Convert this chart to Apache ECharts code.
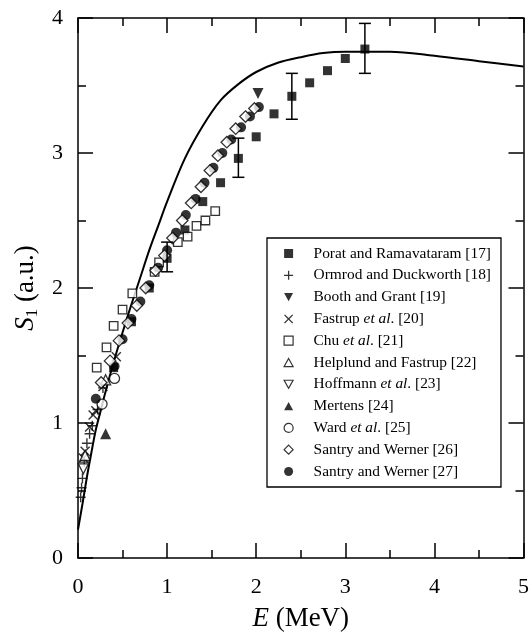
<!DOCTYPE html>
<html>
<head>
<meta charset="utf-8">
<script src="https://cdn.jsdelivr.net/npm/echarts@6/dist/echarts.min.js"></script>
<style>html,body{margin:0;padding:0;background:#fff}#c{width:532px;height:637px}</style>
</head>
<body>
<div id="c"></div>
<script>
// ---- data ----
var xTicks = [0, 1, 2, 3, 4, 5];
var yTicks = [0, 1, 2, 3, 4];

var curveE = [0, 0.05, 0.1, 0.15, 0.2, 0.25, 0.3, 0.4, 0.5, 0.6, 0.7, 0.8, 0.9, 1.0, 1.2, 1.4, 1.6, 1.8, 2.0, 2.25, 2.5, 2.75, 3.0, 3.25, 3.5, 4.0, 4.5, 5.0];
var curveS = [0.21, 0.40, 0.60, 0.78, 0.95, 1.08, 1.21, 1.45, 1.67, 1.88, 2.08, 2.28, 2.46, 2.64, 2.96, 3.2, 3.39, 3.51, 3.6, 3.67, 3.71, 3.74, 3.75, 3.75, 3.75, 3.72, 3.68, 3.64];

var poratE = [0.4, 0.6, 0.8, 1.0, 1.2, 1.4, 1.6, 1.8, 2.0, 2.2, 2.4, 2.6, 2.8, 3.0, 3.22];
var poratS = [1.41, 1.75, 2.0, 2.22, 2.43, 2.64, 2.78, 2.96, 3.12, 3.29, 3.42, 3.52, 3.61, 3.70, 3.77];
var errE = [1.0, 1.8, 2.4, 3.22];
var errLow = [2.12, 2.82, 3.25, 3.59];
var errHigh = [2.34, 3.11, 3.59, 3.96];

var ormrodE = [0.03, 0.04, 0.05, 0.07, 0.1, 0.13, 0.16, 0.22, 0.28];
var ormrodS = [0.45, 0.52, 0.59, 0.71, 0.85, 0.92, 0.98, 1.1, 1.26];

var boothE = [2.02];
var boothS = [3.44];

var fastrupE = [0.06, 0.08, 0.13, 0.17, 0.2, 0.28, 0.43];
var fastrupS = [0.74, 0.79, 0.97, 1.06, 1.09, 1.27, 1.49];

var chuE = [0.21, 0.32, 0.4, 0.5, 0.61, 0.86, 0.91, 1.12, 1.23, 1.33, 1.43, 1.54];
var chuS = [1.41, 1.56, 1.72, 1.84, 1.96, 2.12, 2.19, 2.34, 2.38, 2.46, 2.5, 2.57];

var helplundE = [0.08, 0.31];
var helplundS = [0.76, 1.32];

var hoffmannE = [0.06];
var hoffmannS = [0.66];

var mertensE = [0.31];
var mertensS = [0.92];

var wardE = [0.27, 0.41];
var wardS = [1.14, 1.33];

var santry26E = [0.26, 0.36, 0.46, 0.56, 0.66, 0.76, 0.87, 0.97, 1.06, 1.17, 1.27, 1.38, 1.48, 1.57, 1.67, 1.77, 1.88, 1.98];
var santry26S = [1.3, 1.46, 1.61, 1.74, 1.87, 2.0, 2.13, 2.24, 2.37, 2.5, 2.63, 2.75, 2.87, 2.98, 3.08, 3.18, 3.27, 3.33];

var santry27E = [0.2, 0.41, 0.5, 0.6, 0.7, 0.8, 0.9, 1.0, 1.1, 1.21, 1.32, 1.42, 1.52, 1.62, 1.72, 1.83, 1.93, 2.03];
var santry27S = [1.18, 1.42, 1.62, 1.77, 1.9, 2.02, 2.15, 2.28, 2.41, 2.54, 2.66, 2.78, 2.89, 3.0, 3.1, 3.19, 3.27, 3.34];

var legendNames = [
  'Porat and Ramavataram [17]',
  'Ormrod and Duckworth [18]',
  'Booth and Grant [19]',
  'Fastrup et al. [20]',
  'Chu et al. [21]',
  'Helplund and Fastrup [22]',
  'Hoffmann et al. [23]',
  'Mertens [24]',
  'Ward et al. [25]',
  'Santry and Werner [26]',
  'Santry and Werner [27]'
];

// ---- chart ----
function pairs(a, b) { return a.map(function (v, i) { return [v, b[i]]; }); }
var FONT = 'Liberation Serif';
var PLUS = 'path://M4.3,0H5.7V4.3H10V5.7H5.7V10H4.3V5.7H0V4.3H4.3Z';
var CROSS = 'path://M0,1L1,0L5,4L9,0L10,1L6,5L10,9L9,10L5,6L1,10L0,9L4,5Z';
var DOWN = 'path://M0,0L10,0L5,9Z';
var UP = 'path://M5,0L10,9L0,9Z';

function scatter(name, xs, ys, symbol, size, style) {
  return {
    name: name, type: 'scatter', data: pairs(xs, ys),
    symbol: symbol, symbolSize: size,
    itemStyle: style, z: 3, emphasis: {disabled: true}, silent: true
  };
}
var filled = {color: '#000'};
var open = {color: '#fff', borderColor: '#000', borderWidth: 1.3};

var errData = errE.map(function (e, i) { return [e, errLow[i], errHigh[i]]; });

var axisCommon = {
  min: 0, interval: 1,
  axisLine: {show: true, onZero: false, lineStyle: {color: '#000', width: 1.5}},
  axisTick: {show: true, inside: true, length: 15, lineStyle: {color: '#000', width: 1.5}},
  minorTick: {show: true, splitNumber: 2, length: 8, lineStyle: {color: '#000', width: 1.5}},
  splitLine: {show: false},
  minorSplitLine: {show: false}
};

var legendIcons = ['rect', PLUS, DOWN, CROSS, 'rect', UP, DOWN, UP, 'circle', 'diamond', 'circle'];

var option = {
  animation: false,
  backgroundColor: '#fff',
  grid: {left: 78, right: 5, top: 18, bottom: 79, containLabel: false},
  xAxis: [
    Object.assign({}, axisCommon, {
      type: 'value', position: 'bottom', max: 5,
      axisLabel: {color: '#000', fontFamily: FONT, fontSize: 22, margin: 18,
        formatter: function (v) { return xTicks.indexOf(v) >= 0 ? String(v) : ''; }},
      name: '{i|E} (MeV)', nameLocation: 'middle', nameGap: 47,
      nameTextStyle: {color: '#000', fontFamily: FONT, fontSize: 27,
        rich: {i: {fontStyle: 'italic', fontFamily: FONT, fontSize: 27, color: '#000'}}}
    }),
    Object.assign({}, axisCommon, {type: 'value', position: 'top', max: 5, axisLabel: {show: false}})
  ],
  yAxis: [
    Object.assign({}, axisCommon, {
      type: 'value', position: 'left', max: 4,
      axisLabel: {color: '#000', fontFamily: FONT, fontSize: 22, margin: 15,
        formatter: function (v) { return yTicks.indexOf(v) >= 0 ? String(v) : ''; }},
      name: '{i|S}{sub|1} (a.u.)', nameLocation: 'middle', nameGap: 34,
      nameTextStyle: {color: '#000', fontFamily: FONT, fontSize: 27, lineHeight: 30,
        rich: {
          i: {fontStyle: 'italic', fontFamily: FONT, fontSize: 27, color: '#000', lineHeight: 30},
          sub: {fontFamily: FONT, fontSize: 17, color: '#000', verticalAlign: 'bottom', lineHeight: 17}
        }}
    }),
    Object.assign({}, axisCommon, {type: 'value', position: 'right', max: 4, axisLabel: {show: false}})
  ],
  legend: {
    orient: 'vertical', left: 267, top: 238,
    padding: [8, 10, 8, 16.5],
    itemWidth: 9, itemHeight: 9, itemGap: 7.8,
    borderColor: '#000', borderWidth: 1.3, backgroundColor: '#fff',
    selectedMode: false, align: 'left',
    data: legendNames.map(function (n, i) { return {name: n, icon: legendIcons[i]}; }),
    itemStyle: {borderWidth: 1.2},
    textStyle: {color: '#000', fontFamily: FONT, fontSize: 15.4, lineHeight: 14, padding: [0, 0, 0, 15.5],
      rich: {i: {fontStyle: 'italic', fontFamily: FONT, fontSize: 15.4, lineHeight: 14, color: '#000'}}},
    formatter: function (n) { return n.replace('et al', '{i|et al}'); }
  },
  series: [
    {
      name: 'curve', type: 'line', data: pairs(curveE, curveS), smooth: 0.35,
      showSymbol: false, symbol: 'none', lineStyle: {color: '#000', width: 2}, z: 2, silent: true
    },
    {
      name: 'err', type: 'custom', data: errData, z: 4, silent: true,
      renderItem: function (params, api) {
        var p1 = api.coord([api.value(0), api.value(1)]);
        var p2 = api.coord([api.value(0), api.value(2)]);
        var w = 6, st = {stroke: '#000', lineWidth: 1.5};
        return {type: 'group', children: [
          {type: 'line', shape: {x1: p1[0], y1: p1[1], x2: p2[0], y2: p2[1]}, style: st},
          {type: 'line', shape: {x1: p1[0] - w, y1: p1[1], x2: p1[0] + w, y2: p1[1]}, style: st},
          {type: 'line', shape: {x1: p2[0] - w, y1: p2[1], x2: p2[0] + w, y2: p2[1]}, style: st}
        ]};
      }
    },
    scatter(legendNames[0], poratE, poratS, 'rect', 9, filled),
    scatter(legendNames[1], ormrodE, ormrodS, PLUS, 10, filled),
    scatter(legendNames[2], boothE, boothS, DOWN, 11, filled),
    scatter(legendNames[3], fastrupE, fastrupS, CROSS, 10, filled),
    scatter(legendNames[4], chuE, chuS, 'rect', 8.5, open),
    scatter(legendNames[5], helplundE, helplundS, UP, 10, open),
    scatter(legendNames[6], hoffmannE, hoffmannS, DOWN, 10, open),
    scatter(legendNames[7], mertensE, mertensS, UP, 11, filled),
    scatter(legendNames[8], wardE, wardS, 'circle', 10, open),
    scatter(legendNames[10], santry27E, santry27S, 'circle', 10, filled),
    scatter(legendNames[9], santry26E, santry26S, 'diamond', 11.5, open)
  ]
};
option.legend.itemGap = 6.8;

var chart = echarts.init(document.getElementById('c'), null, {renderer: 'canvas'});
chart.setOption(option);
</script>
</body>
</html>
